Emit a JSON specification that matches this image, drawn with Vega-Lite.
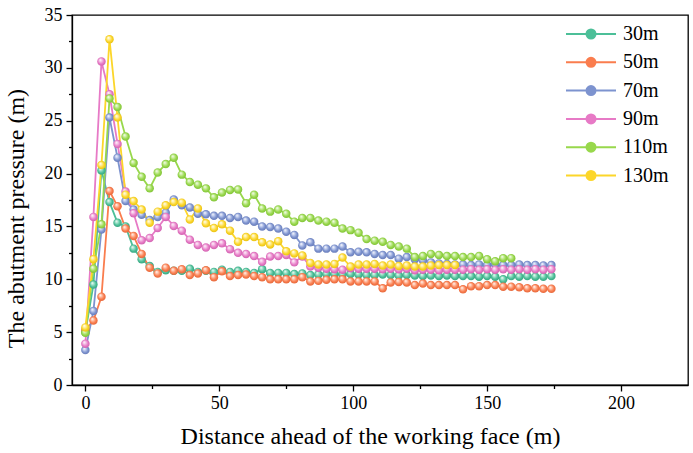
{
 "$schema": "https://vega.github.io/schema/vega-lite/v6.json",
 "width": 616, "height": 370,
 "autosize": {"type": "none"},
 "padding": {"left": 72, "top": 15, "right": 5, "bottom": 68},
 "background": "white",
 "config": {
  "view": {"stroke": "black", "strokeWidth": 1.3},
  "axis": {"domainColor": "black", "domainWidth": 1.3, "tickColor": "black", "tickWidth": 1.3, "labelFont": "Liberation Serif", "labelFontSize": 18, "labelColor": "black", "titleFont": "Liberation Serif", "titleFontSize": 24, "titleFontWeight": "normal", "titleColor": "black", "grid": false}
 },
 "datasets": {
  "pts": [
   {"series":"30m","distance":0,"pressure":5.0},{"series":"30m","distance":3,"pressure":9.5},{"series":"30m","distance":6,"pressure":20.3},{"series":"30m","distance":9,"pressure":17.3},{"series":"30m","distance":12,"pressure":15.35},{"series":"30m","distance":15,"pressure":15.0},{"series":"30m","distance":18,"pressure":12.9},{"series":"30m","distance":21,"pressure":11.9},{"series":"30m","distance":24,"pressure":11.25},{"series":"30m","distance":27,"pressure":10.7},{"series":"30m","distance":30,"pressure":10.85},{"series":"30m","distance":33,"pressure":10.8},{"series":"30m","distance":36,"pressure":10.8},{"series":"30m","distance":39,"pressure":11.0},{"series":"30m","distance":42,"pressure":10.7},{"series":"30m","distance":45,"pressure":10.8},{"series":"30m","distance":48,"pressure":10.7},{"series":"30m","distance":51,"pressure":10.9},{"series":"30m","distance":54,"pressure":10.7},{"series":"30m","distance":57,"pressure":10.8},{"series":"30m","distance":60,"pressure":10.7},{"series":"30m","distance":63,"pressure":10.6},{"series":"30m","distance":66,"pressure":10.95},{"series":"30m","distance":69,"pressure":10.6},{"series":"30m","distance":72,"pressure":10.6},{"series":"30m","distance":75,"pressure":10.6},{"series":"30m","distance":78,"pressure":10.5},{"series":"30m","distance":81,"pressure":10.55},{"series":"30m","distance":84,"pressure":10.4},{"series":"30m","distance":87,"pressure":10.45},{"series":"30m","distance":90,"pressure":10.5},{"series":"30m","distance":93,"pressure":10.5},{"series":"30m","distance":96,"pressure":10.45},{"series":"30m","distance":99,"pressure":10.5},{"series":"30m","distance":102,"pressure":10.45},{"series":"30m","distance":105,"pressure":10.4},{"series":"30m","distance":108,"pressure":10.4},{"series":"30m","distance":111,"pressure":10.45},{"series":"30m","distance":114,"pressure":10.4},{"series":"30m","distance":117,"pressure":10.35},{"series":"30m","distance":120,"pressure":10.4},{"series":"30m","distance":123,"pressure":10.35},{"series":"30m","distance":126,"pressure":10.3},{"series":"30m","distance":129,"pressure":10.35},{"series":"30m","distance":132,"pressure":10.3},{"series":"30m","distance":135,"pressure":10.35},{"series":"30m","distance":138,"pressure":10.3},{"series":"30m","distance":141,"pressure":10.3},{"series":"30m","distance":144,"pressure":10.3},{"series":"30m","distance":147,"pressure":10.25},{"series":"30m","distance":150,"pressure":10.3},{"series":"30m","distance":153,"pressure":10.25},{"series":"30m","distance":156,"pressure":10.0},{"series":"30m","distance":159,"pressure":10.3},{"series":"30m","distance":162,"pressure":10.25},{"series":"30m","distance":165,"pressure":10.3},{"series":"30m","distance":168,"pressure":10.25},{"series":"30m","distance":171,"pressure":10.25},{"series":"30m","distance":174,"pressure":10.3},
   {"series":"50m","distance":0,"pressure":5.2},{"series":"50m","distance":3,"pressure":6.1},{"series":"50m","distance":6,"pressure":8.35},{"series":"50m","distance":9,"pressure":18.35},{"series":"50m","distance":12,"pressure":16.9},{"series":"50m","distance":15,"pressure":14.8},{"series":"50m","distance":18,"pressure":14.1},{"series":"50m","distance":21,"pressure":12.4},{"series":"50m","distance":24,"pressure":11.1},{"series":"50m","distance":27,"pressure":10.55},{"series":"50m","distance":30,"pressure":11.1},{"series":"50m","distance":33,"pressure":10.8},{"series":"50m","distance":36,"pressure":10.95},{"series":"50m","distance":39,"pressure":10.4},{"series":"50m","distance":42,"pressure":10.55},{"series":"50m","distance":45,"pressure":10.85},{"series":"50m","distance":48,"pressure":10.2},{"series":"50m","distance":51,"pressure":10.75},{"series":"50m","distance":54,"pressure":10.3},{"series":"50m","distance":57,"pressure":10.4},{"series":"50m","distance":60,"pressure":10.45},{"series":"50m","distance":63,"pressure":10.3},{"series":"50m","distance":66,"pressure":10.2},{"series":"50m","distance":69,"pressure":10.0},{"series":"50m","distance":72,"pressure":10.0},{"series":"50m","distance":75,"pressure":10.0},{"series":"50m","distance":78,"pressure":10.0},{"series":"50m","distance":81,"pressure":10.2},{"series":"50m","distance":84,"pressure":9.8},{"series":"50m","distance":87,"pressure":9.85},{"series":"50m","distance":90,"pressure":9.95},{"series":"50m","distance":93,"pressure":10.0},{"series":"50m","distance":96,"pressure":10.0},{"series":"50m","distance":99,"pressure":9.8},{"series":"50m","distance":102,"pressure":9.8},{"series":"50m","distance":105,"pressure":9.8},{"series":"50m","distance":108,"pressure":9.8},{"series":"50m","distance":111,"pressure":9.15},{"series":"50m","distance":114,"pressure":9.7},{"series":"50m","distance":117,"pressure":9.75},{"series":"50m","distance":120,"pressure":9.7},{"series":"50m","distance":123,"pressure":9.45},{"series":"50m","distance":126,"pressure":9.6},{"series":"50m","distance":129,"pressure":9.45},{"series":"50m","distance":132,"pressure":9.45},{"series":"50m","distance":135,"pressure":9.45},{"series":"50m","distance":138,"pressure":9.45},{"series":"50m","distance":141,"pressure":9.05},{"series":"50m","distance":144,"pressure":9.35},{"series":"50m","distance":147,"pressure":9.35},{"series":"50m","distance":150,"pressure":9.45},{"series":"50m","distance":153,"pressure":9.45},{"series":"50m","distance":156,"pressure":9.3},{"series":"50m","distance":159,"pressure":9.3},{"series":"50m","distance":162,"pressure":9.25},{"series":"50m","distance":165,"pressure":9.15},{"series":"50m","distance":168,"pressure":9.15},{"series":"50m","distance":171,"pressure":9.1},{"series":"50m","distance":174,"pressure":9.1},
   {"series":"70m","distance":0,"pressure":3.3},{"series":"70m","distance":3,"pressure":7.0},{"series":"70m","distance":6,"pressure":14.7},{"series":"70m","distance":9,"pressure":25.3},{"series":"70m","distance":12,"pressure":21.5},{"series":"70m","distance":15,"pressure":17.4},{"series":"70m","distance":18,"pressure":16.6},{"series":"70m","distance":21,"pressure":16.1},{"series":"70m","distance":24,"pressure":15.6},{"series":"70m","distance":27,"pressure":15.9},{"series":"70m","distance":30,"pressure":16.3},{"series":"70m","distance":33,"pressure":17.55},{"series":"70m","distance":36,"pressure":17.0},{"series":"70m","distance":39,"pressure":16.8},{"series":"70m","distance":42,"pressure":16.2},{"series":"70m","distance":45,"pressure":16.15},{"series":"70m","distance":48,"pressure":16.0},{"series":"70m","distance":51,"pressure":16.0},{"series":"70m","distance":54,"pressure":15.8},{"series":"70m","distance":57,"pressure":15.9},{"series":"70m","distance":60,"pressure":15.55},{"series":"70m","distance":63,"pressure":15.45},{"series":"70m","distance":66,"pressure":15.0},{"series":"70m","distance":69,"pressure":14.95},{"series":"70m","distance":72,"pressure":14.8},{"series":"70m","distance":75,"pressure":14.5},{"series":"70m","distance":78,"pressure":14.2},{"series":"70m","distance":81,"pressure":13.2},{"series":"70m","distance":84,"pressure":13.5},{"series":"70m","distance":87,"pressure":12.9},{"series":"70m","distance":90,"pressure":12.9},{"series":"70m","distance":93,"pressure":12.9},{"series":"70m","distance":96,"pressure":13.1},{"series":"70m","distance":99,"pressure":12.55},{"series":"70m","distance":102,"pressure":12.6},{"series":"70m","distance":105,"pressure":12.55},{"series":"70m","distance":108,"pressure":12.4},{"series":"70m","distance":111,"pressure":12.3},{"series":"70m","distance":114,"pressure":12.3},{"series":"70m","distance":117,"pressure":11.95},{"series":"70m","distance":120,"pressure":12.1},{"series":"70m","distance":123,"pressure":11.9},{"series":"70m","distance":126,"pressure":11.8},{"series":"70m","distance":129,"pressure":11.6},{"series":"70m","distance":132,"pressure":11.5},{"series":"70m","distance":135,"pressure":11.45},{"series":"70m","distance":138,"pressure":11.4},{"series":"70m","distance":141,"pressure":11.4},{"series":"70m","distance":144,"pressure":11.35},{"series":"70m","distance":147,"pressure":11.4},{"series":"70m","distance":150,"pressure":11.35},{"series":"70m","distance":153,"pressure":11.4},{"series":"70m","distance":156,"pressure":11.35},{"series":"70m","distance":159,"pressure":11.35},{"series":"70m","distance":162,"pressure":11.4},{"series":"70m","distance":165,"pressure":11.35},{"series":"70m","distance":168,"pressure":11.35},{"series":"70m","distance":171,"pressure":11.3},{"series":"70m","distance":174,"pressure":11.35},
   {"series":"90m","distance":0,"pressure":3.9},{"series":"90m","distance":3,"pressure":15.9},{"series":"90m","distance":6,"pressure":30.6},{"series":"90m","distance":9,"pressure":27.5},{"series":"90m","distance":12,"pressure":22.8},{"series":"90m","distance":15,"pressure":18.3},{"series":"90m","distance":18,"pressure":16.25},{"series":"90m","distance":21,"pressure":13.7},{"series":"90m","distance":24,"pressure":13.9},{"series":"90m","distance":27,"pressure":14.85},{"series":"90m","distance":30,"pressure":15.9},{"series":"90m","distance":33,"pressure":15.05},{"series":"90m","distance":36,"pressure":14.6},{"series":"90m","distance":39,"pressure":13.75},{"series":"90m","distance":42,"pressure":13.25},{"series":"90m","distance":45,"pressure":13.0},{"series":"90m","distance":48,"pressure":13.25},{"series":"90m","distance":51,"pressure":13.4},{"series":"90m","distance":54,"pressure":12.85},{"series":"90m","distance":57,"pressure":12.5},{"series":"90m","distance":60,"pressure":12.4},{"series":"90m","distance":63,"pressure":12.2},{"series":"90m","distance":66,"pressure":11.65},{"series":"90m","distance":69,"pressure":12.15},{"series":"90m","distance":72,"pressure":12.2},{"series":"90m","distance":75,"pressure":12.3},{"series":"90m","distance":78,"pressure":11.6},{"series":"90m","distance":81,"pressure":12.15},{"series":"90m","distance":84,"pressure":11.2},{"series":"90m","distance":87,"pressure":11.1},{"series":"90m","distance":90,"pressure":11.0},{"series":"90m","distance":93,"pressure":10.95},{"series":"90m","distance":96,"pressure":10.9},{"series":"90m","distance":99,"pressure":11.05},{"series":"90m","distance":102,"pressure":11.0},{"series":"90m","distance":105,"pressure":11.0},{"series":"90m","distance":108,"pressure":11.0},{"series":"90m","distance":111,"pressure":10.95},{"series":"90m","distance":114,"pressure":11.0},{"series":"90m","distance":117,"pressure":10.95},{"series":"90m","distance":120,"pressure":11.0},{"series":"90m","distance":123,"pressure":10.85},{"series":"90m","distance":126,"pressure":10.9},{"series":"90m","distance":129,"pressure":10.9},{"series":"90m","distance":132,"pressure":10.85},{"series":"90m","distance":135,"pressure":10.9},{"series":"90m","distance":138,"pressure":10.9},{"series":"90m","distance":141,"pressure":10.9},{"series":"90m","distance":144,"pressure":10.95},{"series":"90m","distance":147,"pressure":10.9},{"series":"90m","distance":150,"pressure":10.95},{"series":"90m","distance":153,"pressure":10.9},{"series":"90m","distance":156,"pressure":10.95},{"series":"90m","distance":159,"pressure":10.9},{"series":"90m","distance":162,"pressure":10.95},{"series":"90m","distance":165,"pressure":10.9},{"series":"90m","distance":168,"pressure":10.95},{"series":"90m","distance":171,"pressure":10.9},{"series":"90m","distance":174,"pressure":10.95},
   {"series":"110m","distance":0,"pressure":4.95},{"series":"110m","distance":3,"pressure":11.0},{"series":"110m","distance":6,"pressure":15.2},{"series":"110m","distance":9,"pressure":27.1},{"series":"110m","distance":12,"pressure":26.3},{"series":"110m","distance":15,"pressure":23.5},{"series":"110m","distance":18,"pressure":21.0},{"series":"110m","distance":21,"pressure":19.7},{"series":"110m","distance":24,"pressure":18.6},{"series":"110m","distance":27,"pressure":20.1},{"series":"110m","distance":30,"pressure":20.9},{"series":"110m","distance":33,"pressure":21.5},{"series":"110m","distance":36,"pressure":19.9},{"series":"110m","distance":39,"pressure":19.2},{"series":"110m","distance":42,"pressure":18.95},{"series":"110m","distance":45,"pressure":18.6},{"series":"110m","distance":48,"pressure":17.75},{"series":"110m","distance":51,"pressure":18.2},{"series":"110m","distance":54,"pressure":18.45},{"series":"110m","distance":57,"pressure":18.5},{"series":"110m","distance":60,"pressure":17.2},{"series":"110m","distance":63,"pressure":18.0},{"series":"110m","distance":66,"pressure":16.7},{"series":"110m","distance":69,"pressure":16.4},{"series":"110m","distance":72,"pressure":16.6},{"series":"110m","distance":75,"pressure":16.2},{"series":"110m","distance":78,"pressure":15.45},{"series":"110m","distance":81,"pressure":15.8},{"series":"110m","distance":84,"pressure":15.8},{"series":"110m","distance":87,"pressure":15.55},{"series":"110m","distance":90,"pressure":15.45},{"series":"110m","distance":93,"pressure":15.35},{"series":"110m","distance":96,"pressure":14.8},{"series":"110m","distance":99,"pressure":14.65},{"series":"110m","distance":102,"pressure":14.4},{"series":"110m","distance":105,"pressure":13.8},{"series":"110m","distance":108,"pressure":13.65},{"series":"110m","distance":111,"pressure":13.55},{"series":"110m","distance":114,"pressure":13.25},{"series":"110m","distance":117,"pressure":13.1},{"series":"110m","distance":120,"pressure":12.9},{"series":"110m","distance":123,"pressure":12.1},{"series":"110m","distance":126,"pressure":12.2},{"series":"110m","distance":129,"pressure":12.4},{"series":"110m","distance":132,"pressure":12.3},{"series":"110m","distance":135,"pressure":12.2},{"series":"110m","distance":138,"pressure":12.2},{"series":"110m","distance":141,"pressure":12.1},{"series":"110m","distance":144,"pressure":12.1},{"series":"110m","distance":147,"pressure":12.2},{"series":"110m","distance":150,"pressure":11.9},{"series":"110m","distance":153,"pressure":11.7},{"series":"110m","distance":156,"pressure":12.0},{"series":"110m","distance":159,"pressure":12.0},
   {"series":"130m","distance":0,"pressure":5.45},{"series":"130m","distance":3,"pressure":11.9},{"series":"130m","distance":6,"pressure":20.8},{"series":"130m","distance":9,"pressure":32.7},{"series":"130m","distance":12,"pressure":25.3},{"series":"130m","distance":15,"pressure":18.0},{"series":"130m","distance":18,"pressure":17.4},{"series":"130m","distance":21,"pressure":16.6},{"series":"130m","distance":24,"pressure":15.35},{"series":"130m","distance":27,"pressure":16.4},{"series":"130m","distance":30,"pressure":17.0},{"series":"130m","distance":33,"pressure":17.3},{"series":"130m","distance":36,"pressure":17.25},{"series":"130m","distance":39,"pressure":15.65},{"series":"130m","distance":42,"pressure":16.7},{"series":"130m","distance":45,"pressure":15.3},{"series":"130m","distance":48,"pressure":14.85},{"series":"130m","distance":51,"pressure":15.2},{"series":"130m","distance":54,"pressure":14.6},{"series":"130m","distance":57,"pressure":13.55},{"series":"130m","distance":60,"pressure":14.0},{"series":"130m","distance":63,"pressure":14.0},{"series":"130m","distance":66,"pressure":13.5},{"series":"130m","distance":69,"pressure":13.3},{"series":"130m","distance":72,"pressure":13.6},{"series":"130m","distance":75,"pressure":12.65},{"series":"130m","distance":78,"pressure":12.45},{"series":"130m","distance":81,"pressure":12.25},{"series":"130m","distance":84,"pressure":11.55},{"series":"130m","distance":87,"pressure":11.4},{"series":"130m","distance":90,"pressure":11.4},{"series":"130m","distance":93,"pressure":11.45},{"series":"130m","distance":96,"pressure":12.05},{"series":"130m","distance":99,"pressure":11.2},{"series":"130m","distance":102,"pressure":11.4},{"series":"130m","distance":105,"pressure":11.4},{"series":"130m","distance":108,"pressure":11.45},{"series":"130m","distance":111,"pressure":11.3},{"series":"130m","distance":114,"pressure":11.4},{"series":"130m","distance":117,"pressure":11.25},{"series":"130m","distance":120,"pressure":11.3},{"series":"130m","distance":123,"pressure":11.2},{"series":"130m","distance":126,"pressure":11.2},{"series":"130m","distance":129,"pressure":11.3},{"series":"130m","distance":132,"pressure":11.35},{"series":"130m","distance":135,"pressure":11.35},{"series":"130m","distance":138,"pressure":11.35}
  ]
 },
 "data": {"name": "pts"},
 "layer": [
  {
   "mark": {"type": "line", "strokeWidth": 1.8},
   "encoding": {
    "x": {"field": "distance", "type": "quantitative", "scale": {"domain": [-5, 225], "nice": false, "zero": false},
          "axis": {"orient": "bottom", "values": [0, 50, 100, 150, 200], "tickSize": 6, "labelPadding": 3, "title": "Distance ahead of the working face (m)", "titlePadding": 12, "titleX": 298}},
    "y": {"field": "pressure", "type": "quantitative", "scale": {"domain": [0, 35], "nice": false},
          "axis": {"orient": "left", "values": [0, 5, 10, 15, 20, 25, 30, 35], "tickSize": 6, "labelPadding": 4, "title": "The abutment pressure (m)", "titlePadding": 16, "titleY": 203}},
    "color": {"field": "series", "type": "nominal",
              "scale": {"domain": ["30m", "50m", "70m", "90m", "110m", "130m"], "range": ["#4CBF98", "#FA7D4E", "#7D93CF", "#E77AC6", "#98D84C", "#FCD62A"]},
              "legend": {"title": null, "orient": "none", "legendX": 493, "legendY": 8, "symbolType": "M-1,0H1.05M1.95,0H4M1.05,0A0.45,0.45,0,1,1,1.95,0A0.45,0.45,0,1,1,1.05,0Z", "symbolSize": 400, "symbolStrokeWidth": 2, "labelFont": "Liberation Serif", "labelFontSize": 20, "labelColor": "black", "labelOffset": 36, "rowPadding": 7.3, "padding": 0,
                         "encode": {"symbols": {"update": {"fill": {"scale": "color", "field": "value"}, "fillOpacity": {"value": 1}}}}}}
   }
  },
  {
   "transform": [{"filter": "datum.series === '30m'"}],
   "mark": {"type": "point", "filled": true, "size": 72, "opacity": 1, "strokeWidth": 0,
            "fill": {"gradient": "radial", "x1": 0.35, "y1": 0.3, "r1": 0, "x2": 0.5, "y2": 0.5, "r2": 0.55, "stops": [{"offset": 0, "color": "#ffffff"}, {"offset": 0.3, "color": "#A5E3CC"}, {"offset": 0.65, "color": "#4CBF98"}, {"offset": 1, "color": "#35A07D"}]}},
   "encoding": {
    "x": {"field": "distance", "type": "quantitative", "axis": {"orient": "bottom", "values": [25, 75, 125, 175], "tickSize": 3.5, "labels": false, "domain": false, "title": null}},
    "y": {"field": "pressure", "type": "quantitative", "axis": {"orient": "left", "values": [2.5, 7.5, 12.5, 17.5, 22.5, 27.5, 32.5], "tickSize": 3.5, "labels": false, "domain": false, "title": null}}
   }
  },
  {
   "transform": [{"filter": "datum.series === '50m'"}],
   "mark": {"type": "point", "filled": true, "size": 72, "opacity": 1, "strokeWidth": 0,
            "fill": {"gradient": "radial", "x1": 0.35, "y1": 0.3, "r1": 0, "x2": 0.5, "y2": 0.5, "r2": 0.55, "stops": [{"offset": 0, "color": "#ffffff"}, {"offset": 0.3, "color": "#FFC1A8"}, {"offset": 0.65, "color": "#FA7D4E"}, {"offset": 1, "color": "#E0653A"}]}},
   "encoding": {"x": {"field": "distance", "type": "quantitative", "axis": null}, "y": {"field": "pressure", "type": "quantitative", "axis": null}}
  },
  {
   "transform": [{"filter": "datum.series === '70m'"}],
   "mark": {"type": "point", "filled": true, "size": 72, "opacity": 1, "strokeWidth": 0,
            "fill": {"gradient": "radial", "x1": 0.35, "y1": 0.3, "r1": 0, "x2": 0.5, "y2": 0.5, "r2": 0.55, "stops": [{"offset": 0, "color": "#ffffff"}, {"offset": 0.3, "color": "#C3CEEE"}, {"offset": 0.65, "color": "#7D93CF"}, {"offset": 1, "color": "#6478B5"}]}},
   "encoding": {"x": {"field": "distance", "type": "quantitative", "axis": null}, "y": {"field": "pressure", "type": "quantitative", "axis": null}}
  },
  {
   "transform": [{"filter": "datum.series === '90m'"}],
   "mark": {"type": "point", "filled": true, "size": 72, "opacity": 1, "strokeWidth": 0,
            "fill": {"gradient": "radial", "x1": 0.35, "y1": 0.3, "r1": 0, "x2": 0.5, "y2": 0.5, "r2": 0.55, "stops": [{"offset": 0, "color": "#ffffff"}, {"offset": 0.3, "color": "#F6C3E7"}, {"offset": 0.65, "color": "#E77AC6"}, {"offset": 1, "color": "#CC5FAB"}]}},
   "encoding": {"x": {"field": "distance", "type": "quantitative", "axis": null}, "y": {"field": "pressure", "type": "quantitative", "axis": null}}
  },
  {
   "transform": [{"filter": "datum.series === '110m'"}],
   "mark": {"type": "point", "filled": true, "size": 72, "opacity": 1, "strokeWidth": 0,
            "fill": {"gradient": "radial", "x1": 0.35, "y1": 0.3, "r1": 0, "x2": 0.5, "y2": 0.5, "r2": 0.55, "stops": [{"offset": 0, "color": "#ffffff"}, {"offset": 0.3, "color": "#CDEFA5"}, {"offset": 0.65, "color": "#98D84C"}, {"offset": 1, "color": "#7DBE35"}]}},
   "encoding": {"x": {"field": "distance", "type": "quantitative", "axis": null}, "y": {"field": "pressure", "type": "quantitative", "axis": null}}
  },
  {
   "transform": [{"filter": "datum.series === '130m'"}],
   "mark": {"type": "point", "filled": true, "size": 72, "opacity": 1, "strokeWidth": 0,
            "fill": {"gradient": "radial", "x1": 0.35, "y1": 0.3, "r1": 0, "x2": 0.5, "y2": 0.5, "r2": 0.55, "stops": [{"offset": 0, "color": "#ffffff"}, {"offset": 0.3, "color": "#FFEFA0"}, {"offset": 0.65, "color": "#FCD62A"}, {"offset": 1, "color": "#E3BC10"}]}},
   "encoding": {"x": {"field": "distance", "type": "quantitative", "axis": null}, "y": {"field": "pressure", "type": "quantitative", "axis": null}}
  }
 ],
 "resolve": {"axis": {"x": "independent", "y": "independent"}}
}
